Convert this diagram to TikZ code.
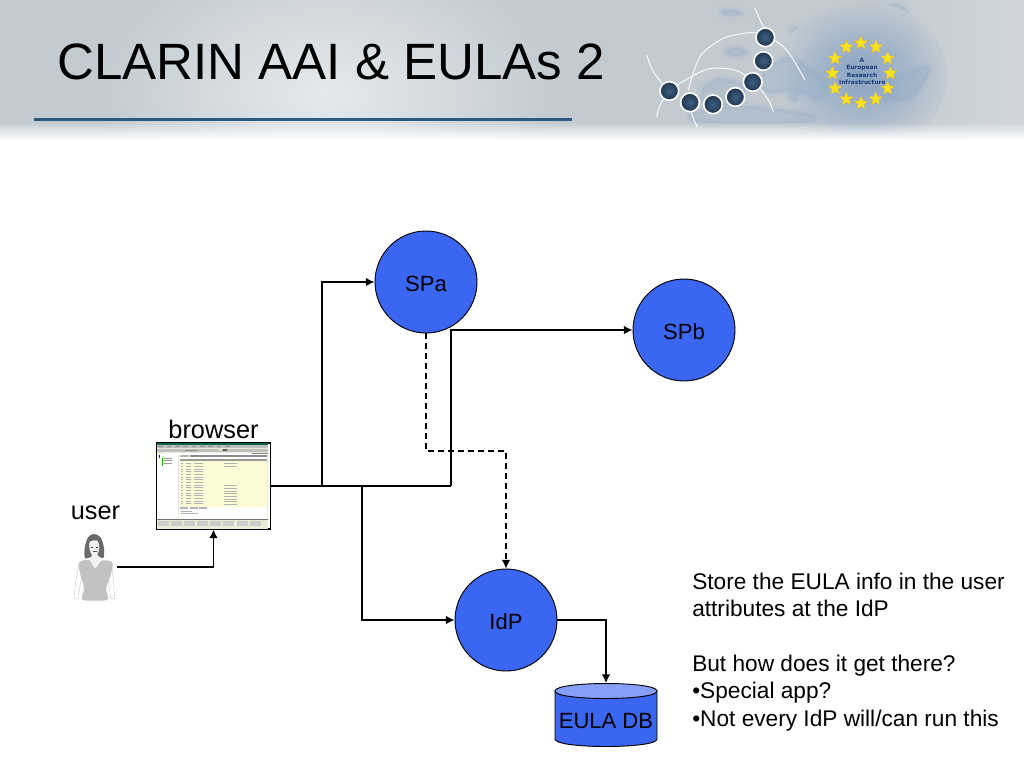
\documentclass[tikz,border=0pt]{standalone}
\usepackage{fontspec}
\setmainfont{Liberation Sans}
\newfontfamily\logofont{DejaVu Sans}
\usetikzlibrary{arrows.meta,shapes.geometric}
\definecolor{nodeblue}{HTML}{3A66F2}
\definecolor{dbtop}{HTML}{86A0FA}
\definecolor{headbase}{HTML}{C3CBD1}
\definecolor{headlight}{HTML}{E6E9EB}
\definecolor{headright}{HTML}{D0D6DB}
\definecolor{spot}{HTML}{7F9CC1}
\definecolor{landblue}{HTML}{8FAAC6}
\definecolor{dotin}{HTML}{3D5F84}
\definecolor{dotout}{HTML}{22364D}
\definecolor{starcol}{HTML}{F6E21E}
\definecolor{ruleblue}{HTML}{2E5A80}
\definecolor{logotext}{HTML}{1B3C78}
\definecolor{winface}{HTML}{E9EBD6}
\definecolor{tableyellow}{HTML}{FBFBD6}
\definecolor{dressgrey}{HTML}{C2C2C2}
\definecolor{hairgrey}{HTML}{6A6A6A}
\tikzset{
  x=0.75pt,y=-0.75pt,
  bubble/.style={circle,draw=black,line width=0.7pt,fill=nodeblue,minimum size=76.5pt,inner sep=0pt,text height=14pt,text depth=0pt,font=\fontsize{16.5}{20}\selectfont},
  dbnode/.style={rectangle,minimum width=76.5pt,minimum height=47.25pt,inner sep=0pt},
  label/.style={inner sep=0pt,font=\fontsize{19}{23}\selectfont},
  note/.style={inner sep=0pt,anchor=base west,font=\fontsize{17}{20}\selectfont},
  link/.style={line width=1.1pt,-{Latex[length=6.5pt,width=6.5pt]}},
  plain/.style={line width=1.1pt},
  dashlink/.style={line width=1.1pt,dash pattern=on 4.5pt off 3pt,-{Latex[length=6.5pt,width=6.5pt]}},
  euro/.style={star,star points=5,star point ratio=2.3,fill=starcol,draw=orange!60!yellow,line width=0.1pt,minimum size=10.5pt,inner sep=0pt},
  logotxt/.style={inner sep=0pt,text=logotext,font=\logofont\bfseries\fontsize{4.4}{5}\selectfont},
  halo/.style={circle,draw=white,line width=1.2pt,shade,inner color=dotin,outer color=dotout,minimum size=14pt,inner sep=0pt},
  arcline/.style={draw=white,line width=0.8pt,opacity=0.85},
}
\newcommand{\softblob}[1]{%
  \draw[landblue,line width=6pt,opacity=0.07,line join=round] plot[smooth cycle] coordinates {#1};
  \draw[landblue,line width=3pt,opacity=0.09,line join=round] plot[smooth cycle] coordinates {#1};
  \fill[landblue,opacity=0.3] plot[smooth cycle] coordinates {#1};
}
\begin{document}
\begin{tikzpicture}
\useasboundingbox (0,0) rectangle (1024,768);
\clip (0,0) rectangle (1024,768);
\fill[white] (0,0) rectangle (1024,768);
% header background
\fill[headbase] (0,0) rectangle (1024,142);
\begin{scope}
  \clip (0,0) rectangle (640,142);
  \shade[inner color=headlight,outer color=headbase] (326,95) ellipse[x radius=230,y radius=150];
\end{scope}
\fill[left color=headbase,right color=headright] (880,0) rectangle (1024,142);
% map
\begin{scope}[shift={(620,0)},x=0.25pt,y=-0.25pt]
  \softblob{(510,95) (600,50) (690,25) (840,15) (880,80) (900,150) (860,190) (780,140) (690,200) (600,230) (560,190) (600,110)}
\end{scope}
\begin{scope}
  \clip (640,0) rectangle (1024,142);
  \shade[inner color=spot,outer color=headbase,opacity=0.85] (862,76) ellipse[x radius=85,y radius=75];
\end{scope}
\begin{scope}[shift={(620,0)},x=0.25pt,y=-0.25pt]
  \softblob{(440,210) (500,170) (560,200) (620,250) (600,300) (520,270) (450,280) (410,250)}
  \softblob{(250,260) (300,235) (370,255) (365,300) (300,320) (245,305)}
  \softblob{(312,155) (350,142) (385,160) (340,170)}
  \softblob{(302,35) (340,28) (365,42) (320,48)}
  \softblob{(785,260) (850,225) (920,198) (925,225) (880,290) (800,300)}
  \softblob{(225,335) (380,318) (560,340) (560,368) (240,368)}
  \softblob{(510,280) (535,275) (530,300) (512,298)}
  \draw[arcline] plot[smooth] coordinates {(405,25) (420,60) (436,90)};
  \draw[arcline] plot[smooth] coordinates {(205,270) (240,170) (310,115) (390,98) (436,105) (500,150) (555,240)};
  \draw[arcline] plot[smooth] coordinates {(148,270) (260,208) (350,212) (410,255) (445,300) (460,335)};
  \draw[arcline] plot[smooth] coordinates {(80,165) (100,215) (135,260)};
  \draw[arcline] plot[smooth] coordinates {(135,290) (118,320) (110,352)};
  \draw[arcline] plot[smooth] coordinates {(210,320) (218,350) (232,382)};
  \node[halo] (d1) at (436,112) {};
  \node[halo] (d2) at (430,183) {};
  \node[halo] (d3) at (398,246) {};
  \node[halo] (d4) at (346,291) {};
  \node[halo] (d5) at (279,313) {};
  \node[halo] (d6) at (210,307) {};
  \node[halo] (d7) at (148,273) {};
  \node[euro] (s1) at (723,129) {};
  \node[euro] (s2) at (768,141) {};
  \node[euro] (s3) at (803,175) {};
  \node[euro] (s4) at (811,220) {};
  \node[euro] (s5) at (803,265) {};
  \node[euro] (s6) at (767,297) {};
  \node[euro] (s7) at (723,310) {};
  \node[euro] (s8) at (679,297) {};
  \node[euro] (s9) at (645,265) {};
  \node[euro] (s10) at (637,220) {};
  \node[euro] (s11) at (645,175) {};
  \node[euro] (s12) at (679,141) {};
  \node[logotxt] (l1) at (726,181) {A};
  \node[logotxt] (l2) at (726,203) {European};
  \node[logotxt] (l3) at (726,225) {Research};
  \node[logotxt] (l4) at (727,247) {Infrastructure};
\end{scope}
% fade of the header into the page
\foreach \i in {0,...,17}{
  \pgfmathsetmacro{\op}{min(1,(\i+1)/18)}
  \fill[white,opacity=\op] (0,123+\i) rectangle (1024,124+\i);
}
\fill[white] (0,141) rectangle (1024,146);
% title
\node[inner sep=0pt,anchor=base west,font=\fontsize{38.3}{44}\selectfont] (title) at (57,79) {CLARIN AAI \& EULAs 2};
\fill[ruleblue] (34,117.7) rectangle (572,120.7);

% nodes
\node[bubble] (spa) at (426,282) {SPa};
\node[bubble] (spb) at (684,330) {SPb};
\node[bubble] (idp) at (506,620) {IdP};
\node[dbnode] (db) at (606,714.8) {};
\path[fill=nodeblue,draw=black,line width=0.7pt] (555,691) -- (555,739) .. controls (555,749) and (657,749) .. (657,739) -- (657,691) -- cycle;
\path[fill=dbtop,draw=black,line width=0.7pt] (555,691) .. controls (555,681) and (657,681) .. (657,691) .. controls (657,701) and (555,701) .. (555,691) -- cycle;
\node[inner sep=0pt,font=\fontsize{16.5}{20}\selectfont] (dbtext) at (606,721) {EULA DB};
\node[label] (browserlabel) at (213.5,429) {browser};
\node[label] (userlabel) at (95.5,513) {user};
\node[draw=black,line width=0.8pt,fill=white,minimum width=86pt,minimum height=64.5pt,inner sep=0pt] (browser) at (213.5,486) {};

% browser screenshot (coordinates: 3x crop from (155,441))
\begin{scope}[shift={(155,441)},x=0.25pt,y=-0.25pt]
  \fill[winface] (5,7) rectangle (338,263);
  \fill[black!55!blue!60!green] (5,7) rectangle (338,13);
  \fill[black!25] (5,13) rectangle (338,22);
  \foreach \xx in {10,35,60,85,110,135,160,185,210}{\fill[black!45] (\xx,16) rectangle (\xx+14,19);}
  \fill[black!25] (5,24) rectangle (338,33);
  \fill[black!45] (90,26) rectangle (125,30);
  \fill[yellow!50!black!30] (190,25) rectangle (200,31);
  \fill[black!65] (205,25) rectangle (215,31);
  \fill[white] (25,35) rectangle (285,39);
  \fill[black!45] (290,35) rectangle (338,39);
  \fill[white] (6,40) rectangle (70,235);
  \fill[green!75!black] (20,52) rectangle (24,76);
  \fill[blue!70!black] (11,42) rectangle (16,52);
  \foreach \yy in {50,58,66}{\fill[black!40] (27,\yy) rectangle (52,\yy+3);}
  \fill[white] (72,40) rectangle (336,235);
  \fill[black!45] (105,42) rectangle (336,47);
  \fill[black!30] (75,42) rectangle (103,47);
  \fill[tableyellow] (75,55) rectangle (335,197);
  \fill[black!40] (75,55) rectangle (335,60);
  \foreach \yy in {67,75,...,190}{
    \fill[black!30] (79,\yy) rectangle (84,\yy+2);
    \fill[black!30] (92,\yy) rectangle (107,\yy+2);
    \fill[black!30] (116,\yy) rectangle (145,\yy+2);
  }
  \foreach \yy in {67,75,133,141,149,157,165,173,181,189}{\fill[black!30] (207,\yy) rectangle (245,\yy+2);}
  \foreach \xx in {76,105,133}{\fill[black!30] (\xx,198) rectangle (\xx+24,205);}
  \fill[black!30] (78,210) rectangle (110,212);
  \fill[black!30] (78,217) rectangle (128,219);
  \fill[black!55] (5,235) rectangle (338,236);
  \foreach \xx in {9,49,87,127,165,205,246,284}{\fill[black!20] (\xx,241) rectangle (\xx+33,255);}
\end{scope}

% user figure (coordinates: 3x crop from (70,530))
\begin{scope}[shift={(70,530)},x=0.25pt,y=-0.25pt]
  \draw[black!18,fill=white,line width=0.4pt] plot[smooth] coordinates {(28,100) (18,150) (12,205)} -- (24,205) -- (36,130) -- cycle;
  \draw[black!18,fill=white,line width=0.4pt] plot[smooth] coordinates {(125,100) (130,150) (134,205)} -- (122,205) -- (112,130) -- cycle;
  \fill[dressgrey] plot[smooth cycle] coordinates {(28,97) (58,90) (75,115) (95,92) (127,97) (122,135) (108,175) (114,208) (75,212) (36,208) (42,175) (30,130)};
  \fill[hairgrey] plot[smooth cycle] coordinates {(72,12) (92,22) (102,55) (100,85) (88,80) (60,82) (45,85) (44,55) (54,22)};
  \fill[white!94!black] plot[smooth cycle] coordinates {(60,35) (82,32) (88,55) (82,72) (74,80) (64,72) (58,55)};
  \fill[white!94!black] (66,74) -- (84,74) -- (88,92) -- (75,113) -- (60,92) -- cycle;
  \draw[black!75,line width=0.3pt] (63,52) -- (69,52) (77,52) -- (83,52);
  \fill[black!70] (68,64) rectangle (80,67);
  \draw[black!30,line width=0.3pt] (42,175) -- (58,190) (108,175) -- (92,190);
\end{scope}
\coordinate (userfig) at (117,567);

% connectors
\coordinate (j1) at (322,486);
\coordinate (j2) at (451,486);
\coordinate (j3) at (362,486);
\coordinate (bend) at (426,451);
\draw[plain] (browser.east) -- (j2);
\draw[link] (j1) |- (spa.west);
\draw[link] (j2) |- (spb.west);
\draw[link] (j3) |- (idp.west);
\draw[link] (userfig) -| (browser.south);
\draw[dashlink] (spa.south) -- (bend) -| (idp.north);
\draw[link] (idp.east) -| (db.north);

% note
\node[note] (n1) at (692,589) {Store the EULA info in the user};
\node[note] (n2) at (692,616) {attributes at the IdP};
\node[note] (n3) at (692,671) {But how does it get there?};
\node[note] (n4) at (692,698) {•Special app?};
\node[note] (n5) at (692,726) {•Not every IdP will/can run this};
\end{tikzpicture}
\end{document}
